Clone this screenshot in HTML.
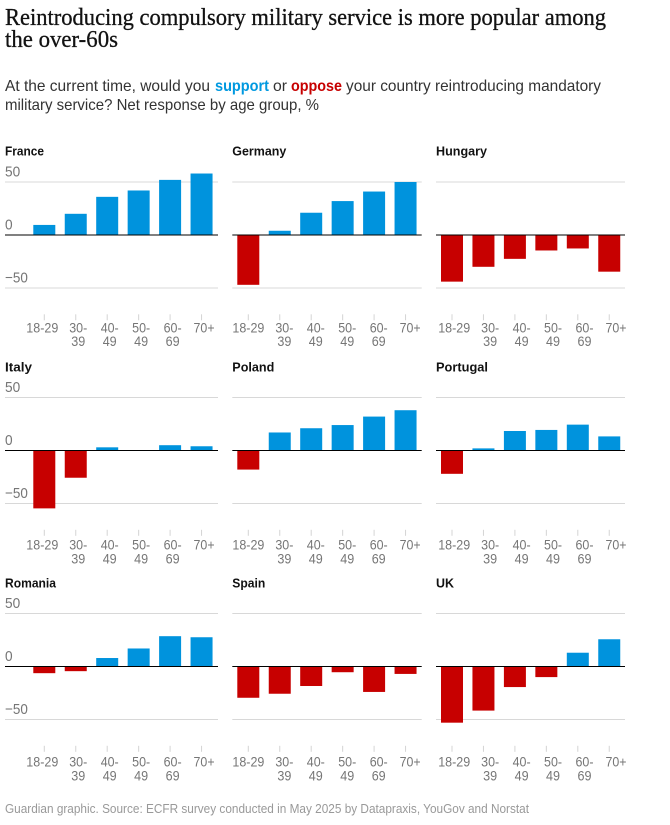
<!DOCTYPE html>
<html lang="en">
<head>
<meta charset="utf-8">
<title>Reintroducing compulsory military service</title>
<style>
html,body{margin:0;padding:0;background:#fff;width:670px;height:825px;overflow:hidden}
svg{display:block}
text{font-family:"Liberation Sans",sans-serif}
.headline{font-family:"Liberation Serif",serif;font-size:24px;fill:#121212;stroke:#121212;stroke-width:.3px}
.sub{font-size:16px;fill:#333}
.sub-b{font-size:16px;font-weight:700}
.foot{font-size:12.5px;fill:#999}
.ctitle{font-size:13px;font-weight:700;fill:#121212}
.ylab{font-size:15px;fill:#767676}
.xlab{font-size:14px;fill:#767676}
</style>
</head>
<body>
<svg id="chart" width="670" height="825" viewBox="0 0 670 825" xmlns="http://www.w3.org/2000/svg">
<text class="headline" x="5" y="25" textLength="601" lengthAdjust="spacingAndGlyphs">Reintroducing compulsory military service is more popular among</text>
<text class="headline" x="5" y="47" textLength="113" lengthAdjust="spacingAndGlyphs">the over-60s</text>
<text class="sub" x="5" y="91" textLength="205" lengthAdjust="spacingAndGlyphs">At the current time, would you</text>
<text class="sub-b" x="215" y="91" fill="#0099e0" textLength="54" lengthAdjust="spacingAndGlyphs">support</text>
<text class="sub" x="273" y="91" textLength="14" lengthAdjust="spacingAndGlyphs">or</text>
<text class="sub-b" x="291" y="91" fill="#c70000" textLength="51" lengthAdjust="spacingAndGlyphs">oppose</text>
<text class="sub" x="346" y="91" textLength="255" lengthAdjust="spacingAndGlyphs">your country reintroducing mandatory</text>
<text class="sub" x="5" y="110" textLength="314" lengthAdjust="spacingAndGlyphs">military service? Net response by age group, %</text>
<text class="foot" x="5" y="813" textLength="524" lengthAdjust="spacingAndGlyphs">Guardian graphic. Source: ECFR survey conducted in May 2025 by Datapraxis, YouGov and Norstat</text>
</svg>
<script>
const ageGroups = ["18-29","30-39","40-49","50-49","60-69","70+"];
const countries = ["France","Germany","Hungary","Italy","Poland","Portugal","Romania","Spain","UK"];
const france = [9.5,20,36,42,52,58];
const germany = [-47,4,21,32,41,50];
const hungary = [-44,-30,-22.5,-14.6,-12.7,-34.6];
const italy = [-54.6,-25.7,3,0,5,4];
const poland = [-18,17,21,24,32,38];
const portugal = [-22,2,18.4,19.4,24.4,13.3];
const romania = [-6.3,-4.4,8,17,28.6,27.6];
const spain = [-29.5,-25.7,-18.4,-5.4,-24,-7];
const uk = [-53,-41.6,-19.4,-10,13,25.7];
const seriesValues = [france,germany,hungary,italy,poland,portugal,romania,spain,uk];
const yTicks = [50,0,-50];
const yTickLabels = ["50","0","\u221250"];

const NS = "http://www.w3.org/2000/svg";
const svg = document.getElementById("chart");
const colLeft = [5,232.3,436];
const colRight = [218,421.7,625];
const colBarStart = [33.3,237.3,441];
const colLabelNudge = [2.5,4.6,6.7];
const rowZero = [235,450.5,666.5];
const rowTitleY = [155.5,371.6,587.7];
const rowLabelY = [332.3,549.5,766.7];
const titleWidths = [39,54,51,27,42,52,51,33,18];
const step = 31.45;
const barWidth = 22;
const unitsToPx = 53/50;

function yScale(row, v){ return rowZero[row] - v*unitsToPx; }
function xScale(col, i){ return colBarStart[col] + i*step; }
function labelWidth(s){
  let w = 0;
  for (const c of s) w += c === "-" ? 4 : 7;
  return w;
}

function make(tag, attrs, parent){
  const el = document.createElementNS(NS, tag);
  for (const k in attrs) el.setAttribute(k, attrs[k]);
  (parent || svg).appendChild(el);
  return el;
}

countries.forEach(function(country, p){
  const col = p % 3;
  const row = Math.floor(p / 3);
  const slug = country.toLowerCase();
  const g = make("g", {});
  
  

  const title = make("text", {x: colLeft[col], y: rowTitleY[row], "class": "ctitle", textLength: titleWidths[p], lengthAdjust: "spacingAndGlyphs"}, g);
  title.textContent = country;
  
  

  yTicks.forEach(function(t, ti){
    if (t === 0) return;
    const line = make("line", {x1: colLeft[col], x2: colRight[col], y1: yScale(row, t), y2: yScale(row, t), stroke: "#d8d8d8", "stroke-width": 1}, g);
    
    
  });

  if (col === 0) {
    yTicks.forEach(function(t, ti){
      const lab = make("text", {x: 5, y: yScale(row, t) - 5.5, "class": "ylab", textLength: yTickLabels[ti].length * 7.6, lengthAdjust: "spacingAndGlyphs"}, g);
      lab.textContent = yTickLabels[ti];
      
      
    });
  }

  seriesValues[p].forEach(function(v, i){
    const y0 = yScale(row, Math.max(v, 0));
    const y1 = yScale(row, Math.min(v, 0));
    const bar = make("rect", {x: xScale(col, i), y: y0, width: barWidth, height: y1 - y0, fill: v >= 0 ? "#0093dd" : "#c70000"}, g);
    
    
  });

  const zero = make("line", {x1: colLeft[col], x2: colRight[col], y1: yScale(row, 0), y2: yScale(row, 0), stroke: "#000", "stroke-width": 1}, g);
  
  

  ageGroups.forEach(function(age, i){
    const cx = xScale(col, i) + barWidth/2;
    const tickTop = rowZero[row] + 79.3;
    const tick = make("line", {x1: cx, x2: cx, y1: tickTop, y2: tickTop + 6, stroke: "#d4d4d4", "stroke-width": 1}, g);
    
    

    const parts = (i === 0 || age.indexOf("-") < 0) ? [age] : [age.split("-")[0] + "-", age.split("-")[1]];
    const lx = cx + colLabelNudge[col] - (i === 0 ? 4.5 : 0);
    parts.forEach(function(part, li){
      const lab = make("text", {x: lx, y: rowLabelY[row] + li*13.8, "text-anchor": "middle", "class": "xlab", textLength: labelWidth(part), lengthAdjust: "spacingAndGlyphs"}, g);
      lab.textContent = part;
      
      
    });
  });
});
</script>
</body>
</html>
